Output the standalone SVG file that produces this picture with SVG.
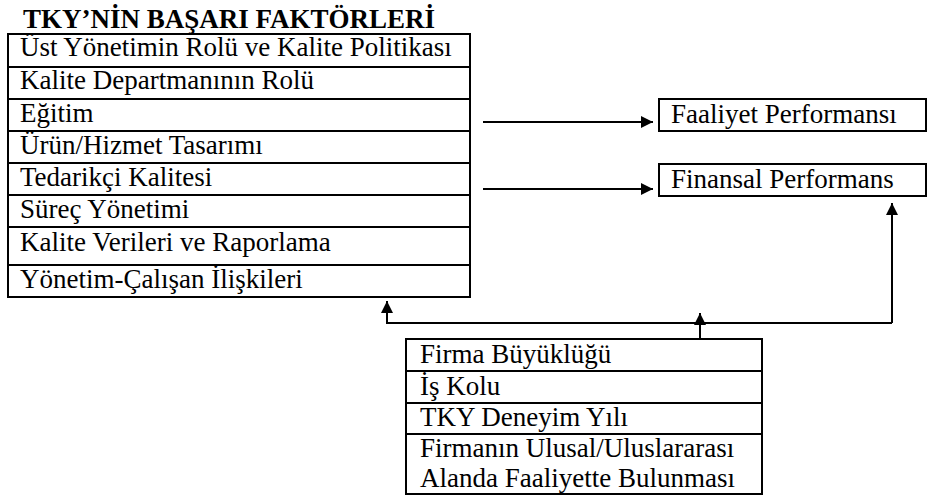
<svg xmlns="http://www.w3.org/2000/svg" width="933" height="497" viewBox="0 0 933 497">
<defs>
<style>
text{font-family:"Liberation Serif","Times New Roman",serif;font-size:27px;fill:#000}
.title{font-weight:bold;font-size:27px}
.box{fill:#fff;stroke:#000;stroke-width:2}
.sep{stroke:#000;stroke-width:2}
.conn{fill:none;stroke:#000;stroke-width:2}
</style>
<marker id="ah" viewBox="0 0 10 10" refX="10" refY="5" markerWidth="14" markerHeight="12" markerUnits="userSpaceOnUse" orient="auto">
<path d="M0,0 L10,5 L0,10 Z" fill="#000"/>
</marker>
</defs>
<rect width="933" height="497" fill="#fff"/>
<text class="title" x="23" y="28">TKY’NİN BAŞARI FAKTÖRLERİ</text>
<g id="factors">
<rect class="box" x="8" y="34" width="462" height="263"/>
<line class="sep" x1="8" y1="67" x2="470" y2="67"/>
<line class="sep" x1="8" y1="99" x2="470" y2="99"/>
<line class="sep" x1="8" y1="131" x2="470" y2="131"/>
<line class="sep" x1="8" y1="163" x2="470" y2="163"/>
<line class="sep" x1="8" y1="195" x2="470" y2="195"/>
<line class="sep" x1="8" y1="227" x2="470" y2="227"/>
<line class="sep" x1="8" y1="265" x2="470" y2="265"/>
<text x="20" y="56">Üst Yönetimin Rolü ve Kalite Politikası</text>
<text x="20" y="89">Kalite Departmanının Rolü</text>
<text x="20" y="122">Eğitim</text>
<text x="20" y="154">Ürün/Hizmet Tasarımı</text>
<text x="20" y="186">Tedarikçi Kalitesi</text>
<text x="20" y="218">Süreç Yönetimi</text>
<text x="20" y="251">Kalite Verileri ve Raporlama</text>
<text x="20" y="288">Yönetim-Çalışan İlişkileri</text>
</g>
<g id="faaliyet">
<rect class="box" x="659" y="99" width="267" height="32"/>
<text x="671" y="123">Faaliyet Performansı</text>
</g>
<g id="finansal">
<rect class="box" x="659" y="164" width="267" height="32"/>
<text x="671" y="188">Finansal Performans</text>
</g>
<g id="firma">
<rect class="box" x="406" y="339" width="356" height="155"/>
<line class="sep" x1="406" y1="371" x2="762" y2="371"/>
<line class="sep" x1="406" y1="403" x2="762" y2="403"/>
<line class="sep" x1="406" y1="434" x2="762" y2="434"/>
<text x="420" y="363">Firma Büyüklüğü</text>
<text x="420" y="395">İş Kolu</text>
<text x="420" y="426">TKY Deneyim Yılı</text>
<text x="420" y="457">Firmanın Ulusal/Uluslararası</text>
<text x="420" y="487">Alanda Faaliyette Bulunması</text>
</g>
<g id="connectors">
<line class="conn" x1="483" y1="122" x2="653" y2="122" marker-end="url(#ah)"/>
<line class="conn" x1="483" y1="189" x2="653" y2="189" marker-end="url(#ah)"/>
<polyline class="conn" points="892,323 387,323 387,301" marker-end="url(#ah)"/>
<line class="conn" x1="892" y1="323" x2="892" y2="203" marker-end="url(#ah)"/>
<line class="conn" x1="700" y1="339" x2="700" y2="313" marker-end="url(#ah)"/>
</g>
</svg>
